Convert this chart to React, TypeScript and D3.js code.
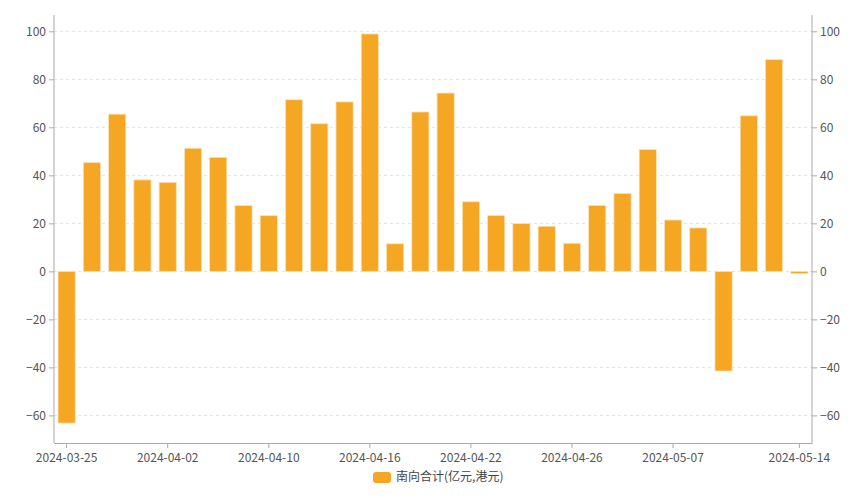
import React, { useEffect, useRef } from 'react';
import * as d3 from 'd3';

const dates = [
  '2024-03-25', '2024-03-26', '2024-03-27', '2024-03-28', '2024-04-02',
  '2024-04-03', '2024-04-08', '2024-04-09', '2024-04-10', '2024-04-11',
  '2024-04-12', '2024-04-15', '2024-04-16', '2024-04-17', '2024-04-18',
  '2024-04-19', '2024-04-22', '2024-04-23', '2024-04-24', '2024-04-25',
  '2024-04-26', '2024-04-29', '2024-04-30', '2024-05-06', '2024-05-07',
  '2024-05-08', '2024-05-09', '2024-05-10', '2024-05-13', '2024-05-14',
];
const southbound = [
  -63.2, 45.3, 65.5, 38.1, 37.1, 51.3, 47.5, 27.4, 23.2, 71.5,
  61.5, 70.6, 98.9, 11.5, 66.4, 74.3, 29, 23.3, 19.9, 18.8,
  11.7, 27.5, 32.5, 50.8, 21.4, 18.1, -41.5, 64.8, 88.2, -0.9,
];
const shownDates = ['2024-03-25', '2024-04-02', '2024-04-10', '2024-04-16', '2024-04-22', '2024-04-26', '2024-05-07', '2024-05-14'];
const yTicks = [-60, -40, -20, 0, 20, 40, 60, 80, 100];
const legendLabel = '南向合计(亿元,港元)';

const App = () => {
  const svgRef = useRef<SVGSVGElement>(null);

  useEffect(() => {
    const width = 865;
    const height = 498;
    const margin = { top: 15, right: 53, bottom: 55, left: 54 };
    const font = '"Microsoft YaHei", "Noto Sans CJK SC", sans-serif';
    const barColor = '#F5A623';

    const svg = d3.select(svgRef.current);
    svg.selectAll('*').remove();

    const x = d3.scaleBand<string>()
      .domain(dates)
      .range([margin.left, width - margin.right])
      .paddingInner(0.32)
      .paddingOuter(0.16);

    const y = d3.scaleLinear()
      .domain([-71.5, 106.8])
      .range([height - margin.bottom, margin.top]);

    // grid
    svg.append('g')
      .selectAll('line')
      .data(yTicks)
      .enter()
      .append('line')
      .attr('x1', margin.left)
      .attr('x2', width - margin.right)
      .attr('y1', d => y(d))
      .attr('y2', d => y(d))
      .style('stroke', '#e3e3e3')
      .style('stroke-dasharray', '3,3');

    // bars
    svg.append('g')
      .selectAll('rect')
      .data(southbound)
      .enter()
      .append('rect')
      .attr('x', (d, i) => x(dates[i])!)
      .attr('width', x.bandwidth())
      .attr('y', d => y(Math.max(0, d)))
      .attr('height', d => Math.abs(y(d) - y(0)))
      .style('fill', barColor)
      .style('stroke', '#fbe3b8')
      .style('stroke-width', 0.8);

    // left axis
    const left = svg.append('g')
      .attr('transform', `translate(${margin.left},0)`)
      .call(d3.axisLeft(y).tickValues(yTicks).tickSize(5).tickPadding(3));
    // right axis
    const right = svg.append('g')
      .attr('transform', `translate(${width - margin.right},0)`)
      .call(d3.axisRight(y).tickValues(yTicks).tickSize(5).tickPadding(3));

    [left, right].forEach(ax => {
      ax.select('.domain').attr('d', null);
      ax.append('line')
        .attr('y1', margin.top)
        .attr('y2', height - margin.bottom)
        .style('stroke', '#aaa');
      ax.selectAll('.tick line').style('stroke', '#aaa');
      ax.selectAll('.tick text')
        .style('font-family', font)
        .style('font-size', '12px')
        .style('fill', '#555');
    });

    // bottom axis
    const bottom = svg.append('g')
      .attr('transform', `translate(0,${height - margin.bottom})`)
      .call(d3.axisBottom(x).tickValues(shownDates).tickSize(5).tickPadding(5).tickSizeOuter(0));
    bottom.select('.domain').style('stroke', '#aaa');
    bottom.selectAll('.tick line').style('stroke', '#aaa');
    bottom.selectAll('.tick text')
      .style('font-family', font)
      .style('font-size', '12px')
      .style('fill', '#555');

    // legend
    const legend = svg.append('g').attr('transform', 'translate(373,472)');
    legend.append('rect')
      .attr('width', 18)
      .attr('height', 11)
      .attr('rx', 3)
      .style('fill', barColor);
    legend.append('text')
      .attr('x', 23)
      .attr('y', 6)
      .attr('dominant-baseline', 'middle')
      .text(legendLabel)
      .style('font-family', font)
      .style('font-size', '12px')
      .style('fill', '#444');
  }, []);

  return (
    <svg ref={svgRef} width={865} height={498}
      style={{ position: 'absolute', left: 0, top: 0, background: '#fff' }} />
  );
};

export default App;
